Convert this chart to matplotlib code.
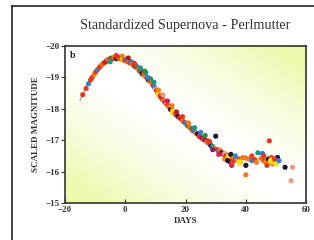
import numpy as np
import matplotlib
matplotlib.use("Agg")
import matplotlib.pyplot as plt
from matplotlib.lines import Line2D

plt.rcParams['font.family'] = ['Liberation Serif', 'DejaVu Serif']

# light-curve points: day, scaled magnitude, colour code
days = [-14.1, -13.0, -12.2, -11.5, -11.0, -10.3, -9.8, -9.2, -8.6, -8.0,
        -7.6, -7.0, -6.5, -6.0, -5.5, -5.0, -4.5, -4.0, -3.6, -3.2,
        -2.8, -2.4, -2.0, -1.6, -1.2, -0.8, -0.4, 0.0, 0.4, 0.8,
        1.2, 1.6, 2.0, 2.4, 2.8, 3.2, 3.6, 4.0, 4.4, 4.8,
        5.2, 5.6, 6.0, 6.4, 6.8, 7.2, 7.6, 8.0, 8.4, 8.8,
        9.2, 9.6, 10.0, 10.4, 10.8, 11.2, 11.6, 12.0, 12.4, 12.8,
        13.2, 13.6, 14.0, 14.5, 15.0, 15.5, 16.0, 16.5, 17.0, 17.5,
        18.0, 18.5, 19.0, 19.5, 20.0, 20.5, 21.0, 21.5, 22.0, 22.5,
        23.0, 23.5, 24.0, 24.5, 25.0, 25.5, 26.0, 26.5, 27.0, 27.5,
        28.0, 28.5, 29.0, 29.5, 30.0, 30.5, 31.0, 31.5, 32.0, 32.5,
        33.0, 33.5, 34.0, 34.4, 34.8, 35.0, 35.3, 35.6, 36.0, 36.5,
        37.0, 37.5, 38.0, 40.0, 40.0, 40.0, 41.0, 42.0, 43.0, 44.0,
        45.0, 45.5, 46.0, 46.5, 47.0, 47.5, 47.8, 48.0, 48.5, 49.0,
        50.0, 50.5, 53.0, 55.5, 55.0,
        -5.0, -3.0, -1.0, 1.0, 3.0, 5.0, 6.5, 7.5, 9.5, 11.0,
        12.5, 14.0, 15.5, 17.0, 19.0, 21.0, 23.0, 25.0, 26.5, 28.0,
        29.0, 31.0, 33.0, 34.0, 35.5, 36.5, 38.0, 39.0, 42.0, 43.5,
        46.0, 48.5, 49.5, 51.0]
mags = [-18.45, -18.65, -18.80, -18.92, -19.00, -19.10, -19.18, -19.25, -19.32, -19.38,
        -19.42, -19.47, -19.50, -19.55, -19.58, -19.60, -19.62, -19.60, -19.65, -19.62,
        -19.60, -19.65, -19.60, -19.62, -19.58, -19.60, -19.55, -19.55, -19.58, -19.50,
        -19.52, -19.46, -19.50, -19.42, -19.40, -19.35, -19.38, -19.30, -19.25, -19.20,
        -19.22, -19.12, -19.10, -19.05, -19.15, -18.98, -18.92, -18.90, -18.95, -18.82,
        -18.75, -18.70, -18.62, -18.58, -18.50, -18.45, -18.42, -18.35, -18.30, -18.25,
        -18.20, -18.15, -18.12, -18.05, -17.98, -17.95, -17.90, -17.85, -17.80, -17.76,
        -17.72, -17.68, -17.62, -17.58, -17.54, -17.48, -17.44, -17.40, -17.36, -17.30,
        -17.27, -17.22, -17.20, -17.12, -17.10, -17.06, -17.02, -17.00, -16.94, -16.98,
        -16.88, -16.82, -16.80, -16.75, -17.13, -16.70, -16.65, -16.68, -16.60, -16.55,
        -16.58, -16.50, -16.52, -16.46, -16.30, -16.55, -16.20, -16.40, -16.45, -16.38,
        -16.42, -16.35, -16.40, -16.43, -16.20, -15.90, -16.40, -16.35, -16.38, -16.60,
        -16.42, -16.58, -16.35, -16.30, -16.20, -16.40, -16.98, -16.30, -16.45, -16.25,
        -16.28, -16.45, -16.14, -16.14, -15.71,
        -19.50, -19.70, -19.68, -19.62, -19.45, -19.30, -19.20, -19.00, -18.85, -18.60,
        -18.45, -18.25, -18.10, -17.90, -17.75, -17.55, -17.40, -17.25, -17.15, -16.95,
        -16.70, -16.55, -16.40, -16.35, -16.30, -16.50, -16.30, -16.45, -16.50, -16.30,
        -16.50, -16.35, -16.40, -16.35]
codes = ("rrbrrorbrr" "ordrorgror" "krodryorbr" "orbordtrog"
         "rkrotrprgo" "rbsroyrdro" "msrokryork" "rdorbtrogr"
         "bokrmdrpor" "mktokrbokr" "spoymkmror" "osrokoobrt"
         "obrorkroro" "ykkss"
         "trodrtgbto" "smodrotbgr" "pmokrbyoro" "ryrb")
# template curve under the points
tmpl_days = [-15.0, -14.0, -12.0, -10.0]
tmpl_mags = [-18.27, -18.50, -18.82, -19.10]

palette = {'r': '#e53a1e', 'o': '#f07d1c', 'd': '#b3201c', 'b': '#2f7fd2',
           't': '#16988a', 'g': '#2f8a3c', 'y': '#f3df1e', 'k': '#1d1236',
           'p': '#7a1f6e', 'm': '#d21e5c', 's': '#f09a88'}
colors = [palette[c] for c in codes]
sizes = [24 if c == 'y' else 14 for c in codes]

fig = plt.figure(figsize=(3.14, 2.4), dpi=100)
ax = fig.add_axes([0.207, 0.154, 0.768, 0.654])

# yellow-green wash in two corners, white across the diagonal
gx, gy = np.meshgrid(np.linspace(0, 1, 200), np.linspace(0, 1, 200))
w = np.clip(np.abs(gx + gy - 1.0) * 1.15, 0, 1) ** 1.5
bg = np.ones((200, 200, 3))
bg[..., 0] = 1 - 0.07 * w
bg[..., 1] = 1 - 0.02 * w
bg[..., 2] = 1 - 0.32 * w
ax.imshow(bg, extent=[0, 1, 0, 1], origin='lower', transform=ax.transAxes,
          aspect='auto', zorder=0)

ax.plot(tmpl_days, tmpl_mags, color='#999999', lw=0.8, zorder=1)
ax.scatter(days, mags, s=sizes, c=colors, edgecolors='none', zorder=2)

ax.set_xlim(-20, 60)
ax.set_ylim(-15, -20)
ax.set_xticks([-20, 0, 20, 40, 60])
ax.set_yticks([-20, -19, -18, -17, -16, -15])
ax.tick_params(axis='x', direction='in', length=3, labelsize=6.5, pad=2, color='#333333')
ax.tick_params(axis='y', direction='out', length=3, labelsize=6.5, pad=1, color='#333333')
for lab in ax.get_xticklabels() + ax.get_yticklabels():
    lab.set_fontweight('bold')
    lab.set_color('#333333')
for sp in ax.spines.values():
    sp.set_linewidth(1.2)
    sp.set_color('#333333')

ax.set_xlabel('DAYS', fontsize=6.5, fontweight='bold', color='#333333', labelpad=2)
ax.set_ylabel('SCALED MAGNITUDE', fontsize=6.5, fontweight='bold', color='#333333', labelpad=4)
ax.text(0.02, 0.97, 'b', transform=ax.transAxes, fontsize=7, fontweight='bold',
        va='top', ha='left', color='#222222')

fig.text(0.59, 0.895, 'Standardized Supernova - Perlmutter', ha='center', va='center',
         fontsize=10.3, color='#333333')

# outer frame lines (left and top)
fig.add_artist(Line2D([0.038, 0.038], [0, 0.975], transform=fig.transFigure,
                      color='#222222', lw=1.2))
fig.add_artist(Line2D([0.038, 1.0], [0.975, 0.975], transform=fig.transFigure,
                      color='#222222', lw=1.2))

fig.savefig('out.png', dpi=100)
